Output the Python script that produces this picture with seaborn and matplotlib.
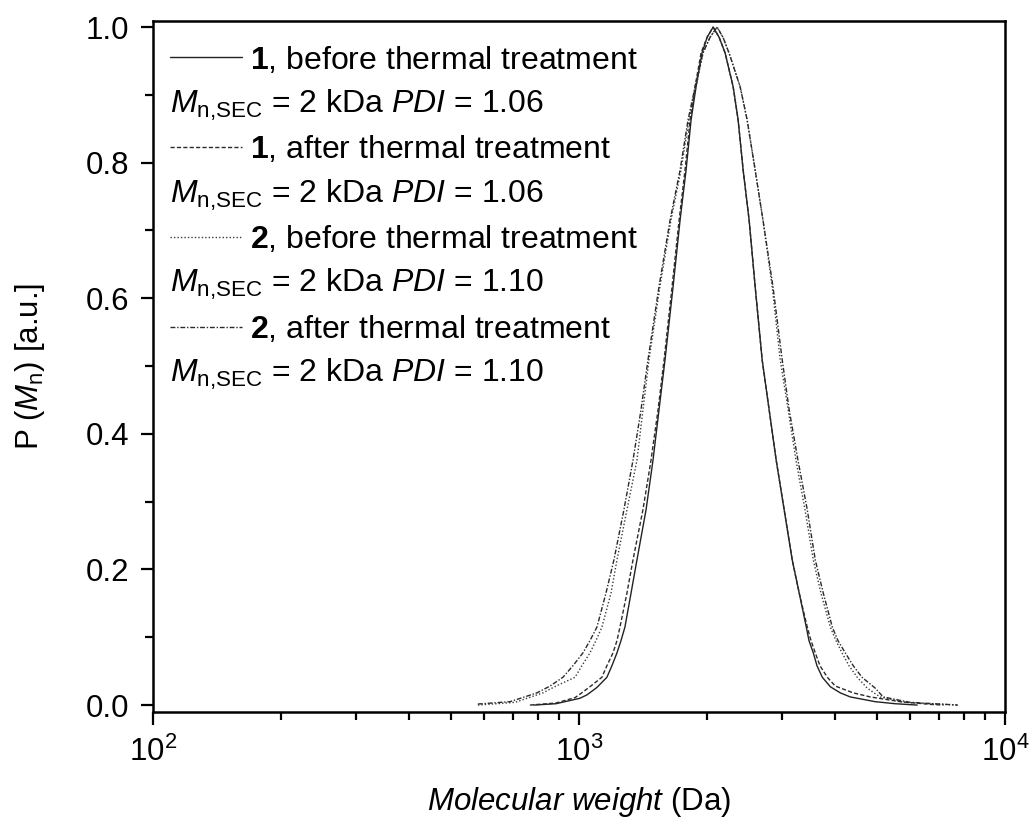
import numpy as np
import pandas as pd
import matplotlib
matplotlib.use('Agg')
import matplotlib.pyplot as plt
from matplotlib.lines import Line2D
from matplotlib.ticker import LogLocator, MultipleLocator, FormatStrFormatter
import seaborn as sns

# 数据
mw_1_before = [784, 883, 1005, 1044, 1102, 1163, 1195, 1228, 1255, 1282,
               1325, 1368, 1437, 1492, 1541, 1592, 1663, 1727, 1784, 1833,
               1883, 1945, 1999, 2065, 2133, 2203, 2301, 2364, 2429, 2509,
               2592, 2692, 2796, 2904, 3032, 3167, 3289, 3417, 3467, 3549,
               3620, 3726, 3891, 4106, 4333, 4958, 5521, 6224]
p_1_before = [0.0, 0.002, 0.010, 0.015, 0.026, 0.041, 0.058, 0.077, 0.095, 0.115,
              0.165, 0.214, 0.288, 0.361, 0.435, 0.509, 0.617, 0.715, 0.789, 0.863,
              0.912, 0.962, 0.985, 1.0, 0.985, 0.962, 0.912, 0.863, 0.789, 0.715,
              0.617, 0.509, 0.435, 0.361, 0.288, 0.214, 0.165, 0.115, 0.095, 0.077,
              0.058, 0.041, 0.027, 0.018, 0.012, 0.005, 0.002, 0.0]

mw_1_after = [767, 883, 979, 1005, 1061, 1132, 1163, 1202, 1228, 1248,
              1296, 1339, 1413, 1476, 1533, 1584, 1654, 1718, 1774, 1823,
              1873, 1935, 1999, 2065, 2133, 2203, 2301, 2364, 2429, 2509,
              2592, 2692, 2796, 2904, 3032, 3167, 3289, 3435, 3505, 3587,
              3679, 3828, 3997, 4404, 4827, 5671, 6686, 7181]
p_1_after = [0.0, 0.003, 0.011, 0.016, 0.027, 0.041, 0.058, 0.077, 0.095, 0.115,
             0.165, 0.214, 0.288, 0.361, 0.435, 0.509, 0.617, 0.715, 0.789, 0.863,
             0.912, 0.962, 0.985, 1.0, 0.985, 0.962, 0.912, 0.863, 0.789, 0.715,
             0.617, 0.509, 0.435, 0.361, 0.288, 0.214, 0.165, 0.115, 0.095, 0.077,
             0.058, 0.041, 0.028, 0.018, 0.012, 0.005, 0.001, 0.0]

mw_2_before = [579, 708, 823, 883, 979, 1016, 1061, 1096, 1132, 1189,
               1228, 1296, 1368, 1413, 1460, 1549, 1644, 1736, 1812, 1883,
               1955, 2031, 2110, 2178, 2250, 2390, 2482, 2592, 2704, 2842,
               2968, 3099, 3232, 3393, 3549, 3699, 3891, 4012, 4144, 4304,
               4500, 4749, 5089, 5825, 7751]
p_2_before = [0.0, 0.004, 0.018, 0.028, 0.041, 0.058, 0.077, 0.095, 0.115, 0.165,
              0.214, 0.288, 0.361, 0.435, 0.509, 0.617, 0.715, 0.789, 0.863, 0.912,
              0.962, 0.985, 1.0, 0.985, 0.962, 0.912, 0.863, 0.789, 0.715, 0.617,
              0.509, 0.435, 0.361, 0.288, 0.214, 0.165, 0.115, 0.095, 0.077, 0.058,
              0.041, 0.025, 0.012, 0.004, 0.0]

mw_2_after = [579, 689, 797, 855, 917, 968, 1022, 1061, 1102, 1157,
              1208, 1275, 1339, 1398, 1452, 1541, 1636, 1727, 1803, 1873,
              1955, 2031, 2110, 2178, 2250, 2390, 2482, 2592, 2704, 2854,
              3000, 3116, 3267, 3435, 3587, 3746, 3933, 4055, 4218, 4404,
              4617, 4958, 5176, 5985, 7751]
p_2_after = [0.0015, 0.005, 0.018, 0.028, 0.041, 0.058, 0.077, 0.095, 0.115, 0.165,
             0.214, 0.288, 0.361, 0.435, 0.509, 0.617, 0.715, 0.789, 0.863, 0.912,
             0.962, 0.985, 1.0, 0.985, 0.962, 0.912, 0.863, 0.789, 0.715, 0.617,
             0.509, 0.435, 0.361, 0.288, 0.214, 0.165, 0.115, 0.095, 0.077, 0.058,
             0.041, 0.025, 0.012, 0.004, 0.0]

samples = ['1b', '1a', '2b', '2a']
legend_line1 = [r'$\mathbf{1}$, before thermal treatment',
                r'$\mathbf{1}$, after thermal treatment',
                r'$\mathbf{2}$, before thermal treatment',
                r'$\mathbf{2}$, after thermal treatment']
legend_line2 = [r'$M_{\mathrm{n{,}SEC}}$ = 2 kDa $\mathit{PDI}$ = 1.06',
                r'$M_{\mathrm{n{,}SEC}}$ = 2 kDa $\mathit{PDI}$ = 1.06',
                r'$M_{\mathrm{n{,}SEC}}$ = 2 kDa $\mathit{PDI}$ = 1.10',
                r'$M_{\mathrm{n{,}SEC}}$ = 2 kDa $\mathit{PDI}$ = 1.10']

df = pd.concat([
    pd.DataFrame({'mw': mw_1_before, 'p': p_1_before, 'sample': '1b'}),
    pd.DataFrame({'mw': mw_1_after, 'p': p_1_after, 'sample': '1a'}),
    pd.DataFrame({'mw': mw_2_before, 'p': p_2_before, 'sample': '2b'}),
    pd.DataFrame({'mw': mw_2_after, 'p': p_2_after, 'sample': '2a'}),
], ignore_index=True)

# 样式
sns.set_style('ticks')
plt.rcParams['font.family'] = ['Liberation Sans', 'DejaVu Sans']
plt.rcParams['mathtext.fontset'] = 'custom'
plt.rcParams['mathtext.rm'] = 'Liberation Sans'
plt.rcParams['mathtext.it'] = 'Liberation Sans:italic'
plt.rcParams['mathtext.bf'] = 'Liberation Sans:bold'
plt.rcParams['text.color'] = 'black'
plt.rcParams['axes.labelcolor'] = 'black'
plt.rcParams['xtick.color'] = 'black'
plt.rcParams['ytick.color'] = 'black'

fig, ax = plt.subplots(figsize=(10.3, 8.27), dpi=100)
fig.subplots_adjust(left=0.1485, right=0.9757, top=0.9746, bottom=0.139)

palette = {'1b': '#222222', '1a': '#2a2a2a', '2b': '#3a3a3a', '2a': '#2a2a2a'}
dashes = {'1b': '', '1a': (3, 1.6), '2b': (1, 1.5), '2a': (3.5, 1.3, 1, 1.3)}
sns.lineplot(data=df, x='mw', y='p', hue='sample', style='sample', hue_order=samples,
             style_order=samples, palette=palette, dashes=dashes, estimator=None,
             sort=False, linewidth=1.0, legend=False, ax=ax)

ax.set_xscale('log')
ax.set_xlim(100, 10000)
ax.set_ylim(-0.0103, 1.009)
ax.yaxis.set_major_locator(MultipleLocator(0.2))
ax.yaxis.set_minor_locator(MultipleLocator(0.1))
ax.xaxis.set_major_locator(LogLocator(base=10))
ax.xaxis.set_minor_locator(LogLocator(base=10, subs=np.arange(2, 10)))
ax.yaxis.set_major_formatter(FormatStrFormatter('%.1f'))

for s in ax.spines.values():
    s.set_linewidth(1.8)
    s.set_color('black')
ax.tick_params(which='major', direction='out', length=9, width=1.6, labelsize=22.5,
               top=False, right=False, color='black')
ax.tick_params(which='minor', direction='out', length=5.5, width=1.6, top=False, right=False)
ax.tick_params(axis='x', which='major', pad=9)
ax.tick_params(axis='y', which='major', pad=8)

ax.set_xlabel(r'$\mathit{Molecular\ weight}$ (Da)', fontsize=22.5, labelpad=12)
ax.set_ylabel(r'P ($M_{\mathrm{n}}$) [a.u.]', fontsize=22.5, labelpad=28)

# 图例：每个样品两行，第二行左对齐到图例起点
lines = ax.get_lines()[:4]
handles, labels = [], []
for i in range(4):
    handles.append(lines[i])
    labels.append(legend_line1[i])
    handles.append(Line2D([], [], linestyle='none'))
    labels.append(legend_line2[i])

fs = 23
hl, htp = 2.25, 0.25
leg = ax.legend(handles, labels, loc='upper left', bbox_to_anchor=(0.02, 0.966),
                frameon=False, fontsize=fs, handlelength=hl, handletextpad=htp,
                labelspacing=0.37, borderpad=0, borderaxespad=0)
shift = (hl + htp) * fs * fig.dpi / 72
for i, t in enumerate(leg.get_texts()):
    if i % 2 == 1:
        t.set_x(-shift)

plt.savefig('out.png', dpi=100)
plt.close()
